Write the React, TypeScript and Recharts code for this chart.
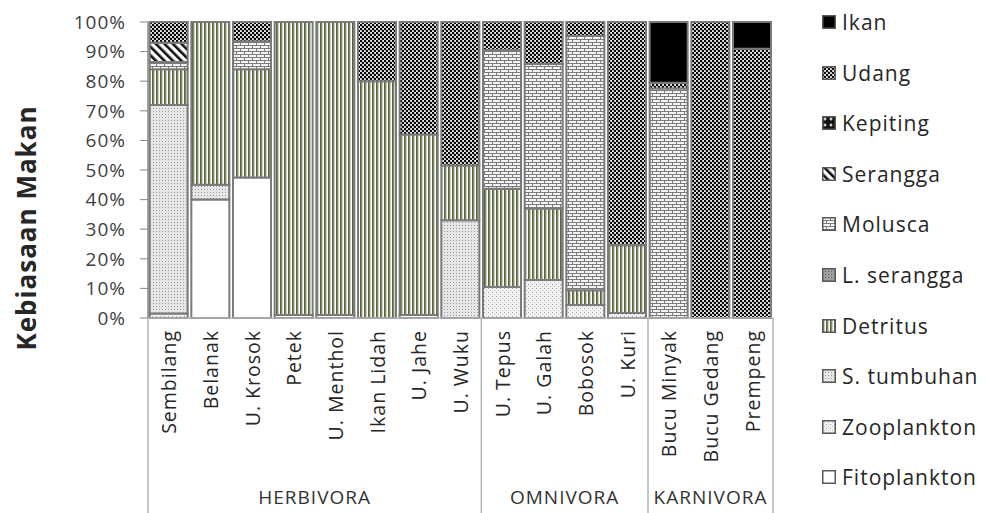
import React from 'react';
import { BarChart, Bar, XAxis, YAxis } from 'recharts';

// jenis ikan (kategori sumbu X)
const fish = [
  'Sembilang', 'Belanak', 'U. Krosok', 'Petek', 'U. Menthol', 'Ikan Lidah', 'U. Jahe', 'U. Wuku',
  'U. Tepus', 'U. Galah', 'Bobosok', 'U. Kuri',
  'Bucu Minyak', 'Bucu Gedang', 'Prempeng',
];

const groups = [
  { name: 'HERBIVORA', start: 0, count: 8 },
  { name: 'OMNIVORA', start: 8, count: 4 },
  { name: 'KARNIVORA', start: 12, count: 3 },
];

const yTicks = [0, 10, 20, 30, 40, 50, 60, 70, 80, 90, 100];

// komposisi makanan (%), urutan sama dengan fish
const fitoplankton = [0, 40, 47.5, 1, 1, 0, 1, 0, 0, 0, 0, 0, 0, 0, 0];
const zooplankton = [1.5, 0, 0, 0, 0, 0, 0, 0, 10.5, 12.8, 4.4, 1.7, 0, 0, 0];
const sTumbuhan = [70.5, 5, 0, 0, 0, 0, 0, 33, 0, 0, 0, 0, 0, 0, 0];
const detritus = [12, 55, 36.5, 99, 99, 80, 61, 18.5, 33.2, 24.2, 5, 22.9, 0, 0, 0];
const lSerangga = [0, 0, 0, 0, 0, 0, 0, 0, 0, 0, 0, 0, 0, 0, 0];
const molusca = [2.5, 0, 9.5, 0, 0, 0, 0, 0, 46.8, 48.8, 85.9, 0, 77.5, 0, 0];
const serangga = [6.5, 0, 0, 0, 0, 0, 0, 0, 0, 0, 0, 0, 0, 0, 0];
const kepiting = [0, 0, 0, 0, 0, 0, 0, 0, 0, 0, 0, 0, 0, 0, 0];
const udang = [7, 0, 6.5, 0, 0, 20, 38, 48.5, 9.5, 14.2, 4.7, 75.4, 2, 100, 91];
const ikan = [0, 0, 0, 0, 0, 0, 0, 0, 0, 0, 0, 0, 20.5, 0, 9];

const data = fish.map((name, i) => ({
  name,
  fitoplankton: fitoplankton[i],
  zooplankton: zooplankton[i],
  sTumbuhan: sTumbuhan[i],
  detritus: detritus[i],
  lSerangga: lSerangga[i],
  molusca: molusca[i],
  serangga: serangga[i],
  kepiting: kepiting[i],
  udang: udang[i],
  ikan: ikan[i],
}));

// bottom -> top stacking order
const series = [
  { key: 'fitoplankton', label: 'Fitoplankton', fill: '#ffffff' },
  { key: 'zooplankton', label: 'Zooplankton', fill: 'url(#p-zoo)' },
  { key: 'sTumbuhan', label: 'S. tumbuhan', fill: 'url(#p-stum)' },
  { key: 'detritus', label: 'Detritus', fill: 'url(#p-detritus)' },
  { key: 'lSerangga', label: 'L. serangga', fill: 'url(#p-lser)' },
  { key: 'molusca', label: 'Molusca', fill: 'url(#p-molusca)' },
  { key: 'serangga', label: 'Serangga', fill: 'url(#p-serangga)' },
  { key: 'kepiting', label: 'Kepiting', fill: 'url(#p-kepiting)' },
  { key: 'udang', label: 'Udang', fill: 'url(#p-udang)' },
  { key: 'ikan', label: 'Ikan', fill: '#000000' },
];

const FONT = '"Open Sans", sans-serif';
const W = 986;
const H = 513;
const LEFT = 148;
const RIGHT = 213;
const TOP = 22;
const X_H = 195;
const BAND = (W - LEFT - RIGHT) / fish.length;

const Patterns = () => (
  <svg width={0} height={0} style={{ position: 'absolute' }}>
    <defs>
      <pattern id="p-zoo" width="4" height="4" patternUnits="userSpaceOnUse">
        <rect width="4" height="4" fill="#f2f2f2" />
        <rect x="0" y="0" width="1" height="1" fill="#a0a0a0" />
        <rect x="2" y="2" width="1" height="1" fill="#bdbdbd" />
      </pattern>
      <pattern id="p-stum" width="3" height="3" patternUnits="userSpaceOnUse">
        <rect width="3" height="3" fill="#e6e6e6" />
        <rect x="0" y="0" width="1" height="1" fill="#9c9c9c" />
      </pattern>
      <pattern id="p-detritus" width="4" height="4" patternUnits="userSpaceOnUse">
        <rect width="4" height="4" fill="#ffffff" />
        <rect x="0" y="0" width="1.8" height="4" fill="#56653a" />
        <rect x="1.8" y="0" width="0.8" height="4" fill="#a9b096" />
      </pattern>
      <pattern id="p-lser" width="3" height="3" patternUnits="userSpaceOnUse">
        <rect width="3" height="3" fill="#a0a0a0" />
        <rect x="0" y="0" width="1" height="1" fill="#5e5e5e" />
      </pattern>
      <pattern id="p-molusca" width="8" height="6" patternUnits="userSpaceOnUse">
        <rect width="8" height="6" fill="#f4f4f4" />
        <path d="M0 0.5 H8 M0 3.5 H8 M0.5 0.5 V3.5 M4.5 3.5 V6.5" stroke="#7a7a7a" strokeWidth="1" fill="none" />
      </pattern>
      <pattern id="p-serangga" width="6" height="6" patternUnits="userSpaceOnUse" patternTransform="rotate(-45)">
        <rect width="6" height="6" fill="#ffffff" />
        <rect x="0" y="0" width="2.6" height="6" fill="#111111" />
      </pattern>
      <pattern id="p-kepiting" width="6" height="6" patternUnits="userSpaceOnUse">
        <rect width="6" height="6" fill="#111111" />
        <path d="M3 1.5 V4.5 M1.5 3 H4.5" stroke="#ffffff" strokeWidth="1.2" />
      </pattern>
      <pattern id="p-udang" width="4" height="4" patternUnits="userSpaceOnUse">
        <rect width="4" height="4" fill="#f4f4f4" />
        <circle cx="1" cy="1" r="1.3" fill="#0a0a0a" />
        <circle cx="3" cy="3" r="1.3" fill="#0a0a0a" />
      </pattern>
    </defs>
  </svg>
);

const FishTick = (props: any) => {
  const { x, y, payload } = props;
  const i = payload.index;
  const group = groups.find(g => g.start === i);
  const isLast = i === fish.length - 1;
  return (
    <g>
      <text
        transform={`translate(${x},${y + 12}) rotate(-90)`}
        textAnchor="end"
        dominantBaseline="central"
        fontFamily={FONT}
        fontSize={19.5}
        letterSpacing={1}
        fill="#262626"
      >
        {payload.value}
      </text>
      {group && (
        <>
          <line x1={x - BAND / 2} x2={x - BAND / 2} y1={y} y2={H} stroke="#b3b3b3" strokeWidth={1.5} />
          <text
            x={x - BAND / 2 + (group.count * BAND) / 2}
            y={497}
            textAnchor="middle"
            dominantBaseline="central"
            fontFamily={FONT}
            fontSize={19}
            letterSpacing={1}
            fill="#333333"
          >
            {group.name}
          </text>
        </>
      )}
      {isLast && <line x1={x + BAND / 2} x2={x + BAND / 2} y1={y} y2={H} stroke="#b3b3b3" strokeWidth={1.5} />}
    </g>
  );
};

const legendItems = [...series].reverse();

export default function App() {
  return (
    <div style={{ position: 'absolute', left: 0, top: 0, width: W, height: H, background: '#fff' }}>
      <Patterns />
      <BarChart
        width={W}
        height={H}
        data={data}
        margin={{ top: TOP, right: RIGHT, bottom: 0, left: 0 }}
        barCategoryGap="4%"
      >
        <XAxis
          dataKey="name"
          height={X_H}
          interval={0}
          tickLine={false}
          tickSize={0}
          tickMargin={0}
          axisLine={{ stroke: '#b3b3b3', strokeWidth: 1.5 }}
          tick={<FishTick />}
        />
        <YAxis
          width={LEFT}
          domain={[0, 100]}
          ticks={yTicks}
          interval={0}
          tickFormatter={v => `${v}%`}
          tickSize={8}
          tickMargin={14}
          tickLine={{ stroke: '#868686' }}
          axisLine={{ stroke: '#868686', strokeWidth: 1.5 }}
          tick={{ fontFamily: FONT, fontSize: 19, fill: '#404040', letterSpacing: 1 }}
          label={() => (
            <text
              transform="translate(26,228) rotate(-90)"
              textAnchor="middle"
              dominantBaseline="central"
              fontFamily={FONT}
              fontSize={26}
              fontWeight="bold"
              letterSpacing={1}
              fill="#262626"
            >
              Kebiasaan Makan
            </text>
          )}
        />
        {series.map(s => (
          <Bar
            key={s.key}
            dataKey={s.key}
            name={s.label}
            stackId="a"
            fill={s.fill}
            stroke="#7a7a7a"
            strokeWidth={2}
            isAnimationActive={false}
          />
        ))}
      </BarChart>
      <div style={{ position: 'absolute', left: 822, top: 0 }}>
        {legendItems.map((s, i) => (
          <div
            key={s.key}
            style={{
              position: 'absolute',
              top: 22 + i * 50.6 - 14,
              left: 0,
              height: 28,
              display: 'flex',
              alignItems: 'center',
              whiteSpace: 'nowrap',
              fontFamily: FONT,
              fontSize: 21,
              letterSpacing: 1,
              color: '#262626',
            }}
          >
            <svg width={14} height={14} style={{ marginRight: 6 }}>
              <rect x={0.75} y={0.75} width={12.5} height={12.5} fill={s.fill} stroke="#595959" strokeWidth={1.5} />
            </svg>
            {s.label}
          </div>
        ))}
      </div>
    </div>
  );
}
